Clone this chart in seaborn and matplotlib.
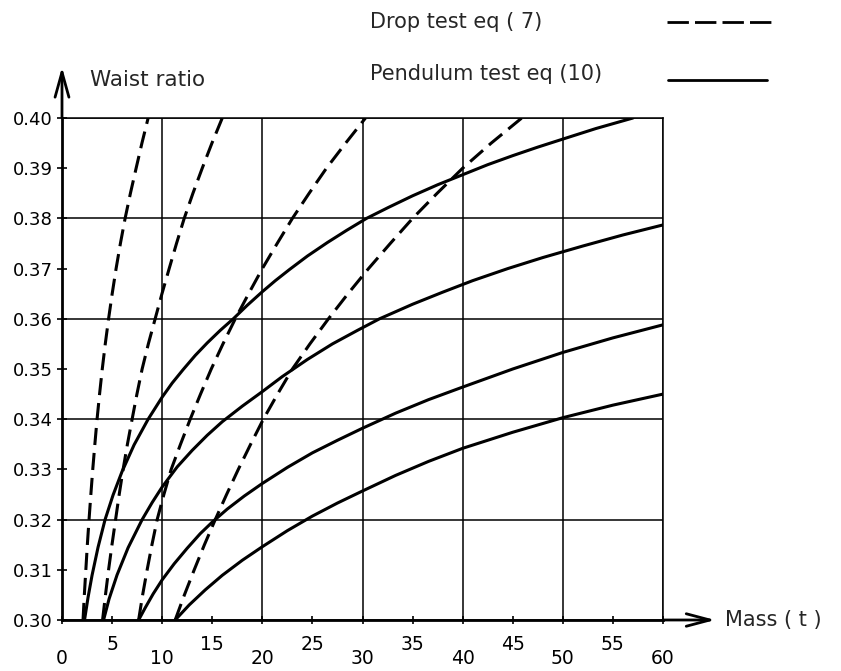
import matplotlib
matplotlib.use("Agg")
import matplotlib.pyplot as plt
from matplotlib.lines import Line2D
import pandas as pd
import seaborn as sns

# ---- data ----
ratio_levels = [0.300, 0.305, 0.310, 0.315, 0.320, 0.325, 0.330, 0.335, 0.340, 0.345, 0.350,
                0.355, 0.360, 0.365, 0.370, 0.375, 0.380, 0.385, 0.390, 0.395, 0.400]

# Drop test eq (7): mass (t) at which each dashed curve reaches the ratio levels
drop_mass_a = [2.10, 2.23, 2.38, 2.53, 2.70, 2.88, 3.07, 3.28, 3.50, 3.75, 4.02,
               4.32, 4.65, 5.01, 5.40, 5.83, 6.30, 6.83, 7.40, 7.98, 8.60]
drop_mass_b = [4.05, 4.34, 4.65, 4.99, 5.35, 5.71, 6.10, 6.53, 7.00, 7.48, 8.00,
               8.62, 9.30, 9.98, 10.70, 11.43, 12.20, 13.07, 14.00, 14.97, 16.00]
drop_mass_c = [7.65, 8.05, 8.50, 8.98, 9.50, 10.17, 10.90, 11.83, 12.80, 13.83, 14.90,
               16.07, 17.30, 18.63, 20.00, 21.48, 23.00, 24.67, 26.40, 28.32, 30.30]
drop_mass_d = [11.30, 12.22, 13.20, 14.22, 15.30, 16.43, 17.60, 18.83, 20.10, 21.52, 23.00,
               24.75, 26.60, 28.55, 30.60, 32.77, 35.00, 37.45, 40.00, 42.85, 45.90]

# Pendulum test eq (10): solid curves (mass, ratio)
pend_mass_a = [2.25, 2.6, 3.0, 3.6, 4.3, 5.1, 6.0, 7.2, 8.6, 10.0, 11.0, 12.1, 13.3, 14.5,
               15.8, 17.1, 18.5, 20.0, 21.3, 22.7, 24.5, 26.5, 28.4, 30.4, 32.6, 35.0,
               37.5, 40.0, 42.5, 45.0, 47.5, 50.0, 53.3, 57.0]
pend_ratio_a = [0.3000, 0.3045, 0.3089, 0.3145, 0.3200, 0.3249, 0.3296, 0.3349, 0.3400, 0.3444,
                0.3472, 0.3499, 0.3527, 0.3552, 0.3577, 0.3600, 0.3627, 0.3654, 0.3676, 0.3698,
                0.3725, 0.3752, 0.3776, 0.3800, 0.3822, 0.3845, 0.3867, 0.3887, 0.3907, 0.3925,
                0.3942, 0.3958, 0.3979, 0.4000]
pend_mass_b = [4.15, 4.7, 5.5, 6.6, 8.0, 9.0, 10.0, 11.5, 13.0, 14.5, 16.0, 18.0, 20.0,
               22.0, 24.5, 27.0, 29.5, 31.7, 35.0, 38.0, 41.0, 44.5, 48.0, 52.0, 56.0, 60.0]
pend_ratio_b = [0.3000, 0.3042, 0.3090, 0.3144, 0.3200, 0.3234, 0.3265, 0.3305, 0.3338, 0.3368,
                0.3395, 0.3426, 0.3455, 0.3485, 0.3519, 0.3550, 0.3577, 0.3600, 0.3629, 0.3653,
                0.3676, 0.3700, 0.3722, 0.3745, 0.3767, 0.3787]
pend_mass_c = [7.65, 8.3, 9.1, 10.0, 11.2, 12.5, 13.8, 15.0, 16.5, 18.2, 20.0, 22.5, 25.0,
               27.5, 30.0, 33.3, 36.6, 40.0, 45.0, 50.0, 55.0, 60.0]
pend_ratio_c = [0.3000, 0.3024, 0.3052, 0.3080, 0.3112, 0.3143, 0.3172, 0.3195, 0.3221, 0.3247,
                0.3272, 0.3304, 0.3333, 0.3358, 0.3382, 0.3412, 0.3439, 0.3464, 0.3500, 0.3533,
                0.3562, 0.3588]
pend_mass_d = [11.3, 12.7, 14.3, 16.0, 18.0, 20.0, 22.5, 25.0, 27.5, 30.0, 33.3, 36.6,
               40.0, 45.0, 50.0, 55.0, 60.0]
pend_ratio_d = [0.3000, 0.3030, 0.3060, 0.3089, 0.3119, 0.3146, 0.3178, 0.3207, 0.3233, 0.3257,
                0.3288, 0.3316, 0.3342, 0.3374, 0.3403, 0.3428, 0.3450]

drop_label = "Drop test eq ( 7)"
pend_label = "Pendulum test eq (10)"

x_major = [0, 10, 20, 30, 40, 50, 60]
x_major_labels = ["0", "10", "20", "30", "40", "50", "60"]
x_minor = [5, 15, 25, 35, 45, 55]
x_minor_labels = ["5", "15", "25", "35", "45", "55"]
y_major = [0.30, 0.32, 0.34, 0.36, 0.38, 0.40]
y_major_labels = ["0.30", "0.32", "0.34", "0.36", "0.38", "0.40"]
y_minor = [0.31, 0.33, 0.35, 0.37, 0.39]
y_minor_labels = ["0.31", "0.33", "0.35", "0.37", "0.39"]

# ---- build a long table ----
frames = []
for name, m in [("d1", drop_mass_a), ("d2", drop_mass_b), ("d3", drop_mass_c), ("d4", drop_mass_d)]:
    frames.append(pd.DataFrame({"mass": m, "ratio": ratio_levels, "curve": name, "test": drop_label}))
for name, m, r in [("p1", pend_mass_a, pend_ratio_a), ("p2", pend_mass_b, pend_ratio_b),
                   ("p3", pend_mass_c, pend_ratio_c), ("p4", pend_mass_d, pend_ratio_d)]:
    frames.append(pd.DataFrame({"mass": m, "ratio": r, "curve": name, "test": pend_label}))
df = pd.concat(frames, ignore_index=True)

# ---- draw ----
sns.set_style("ticks")
plt.rcParams["font.family"] = ["DejaVu Sans"]

fig = plt.figure(figsize=(8.41, 6.71), dpi=100)
ax = fig.add_axes([62 / 841, 51 / 671, 601 / 841, 502 / 671])

sns.lineplot(data=df, x="mass", y="ratio", units="curve", style="test",
             estimator=None, sort=False, color="black", linewidth=2.2,
             dashes={drop_label: (5.6, 2.6), pend_label: ""},
             legend=False, ax=ax, zorder=3)
for ln in ax.get_lines():
    ln.set_solid_joinstyle("round")
    ln.set_dash_joinstyle("round")

ax.set_xlim(0, 60)
ax.set_ylim(0.30, 0.40)
ax.set_xlabel("")
ax.set_ylabel("")

ax.set_xticks(x_major, labels=x_major_labels)
ax.set_xticks(x_minor, labels=x_minor_labels, minor=True)
ax.set_yticks(y_major, labels=y_major_labels)
ax.set_yticks(y_minor, labels=y_minor_labels, minor=True)

ax.grid(which="major", color="black", linewidth=1.1)
ax.grid(which="minor", visible=False)
ax.set_axisbelow(True)

ax.tick_params(axis="x", which="major", direction="inout", length=6, width=1.2,
               pad=17.9, labelsize=13.5, bottom=True, colors="black")
ax.tick_params(axis="x", which="minor", direction="inout", length=6, width=1.2,
               pad=7.8, labelsize=13.5, bottom=True, colors="black")
ax.tick_params(axis="y", which="both", direction="inout", length=7, width=1.2,
               pad=3.0, labelsize=13, left=True, colors="black")

for side in ["left", "bottom"]:
    ax.spines[side].set_linewidth(2.0)
    ax.spines[side].set_color("black")
for side in ["top", "right"]:
    ax.spines[side].set_visible(True)
    ax.spines[side].set_linewidth(1.1)
    ax.spines[side].set_color("black")

# axis arrows
ax.annotate("", xy=(1.087, 0), xytext=(1.0, 0), xycoords="axes fraction",
            textcoords="axes fraction", annotation_clip=False,
            arrowprops=dict(arrowstyle="->,head_length=1.7,head_width=0.45",
                            lw=2.0, color="black", shrinkA=0, shrinkB=0,
                            mutation_scale=10))
ax.annotate("", xy=(0, 1.1016), xytext=(0, 1.0), xycoords="axes fraction",
            textcoords="axes fraction", annotation_clip=False,
            arrowprops=dict(arrowstyle="->,head_length=1.8,head_width=0.5",
                            lw=2.0, color="black", shrinkA=0, shrinkB=0,
                            mutation_scale=10))

ax.text(1.103, 0.0, "Mass ( t )", transform=ax.transAxes, ha="left",
        va="center", fontsize=15)
ax.text(0.0466, 1.0757, "Waist ratio", transform=ax.transAxes, ha="left",
        va="center", fontsize=15.5)

# legend (text followed by line sample)
fig.text(370 / 841, 1 - 22 / 671, drop_label, ha="left", va="center", fontsize=15)
fig.text(370 / 841, 1 - 74 / 671, pend_label, ha="left", va="center", fontsize=15)
fig.add_artist(Line2D([667 / 841, 772 / 841], [1 - 22 / 671, 1 - 22 / 671],
                      transform=fig.transFigure, color="black", lw=2.0,
                      linestyle=(0, (7.7, 2.2))))
fig.add_artist(Line2D([668 / 841, 767 / 841], [1 - 80 / 671, 1 - 80 / 671],
                      transform=fig.transFigure, color="black", lw=2.0))

fig.savefig("out.png", dpi=100)
